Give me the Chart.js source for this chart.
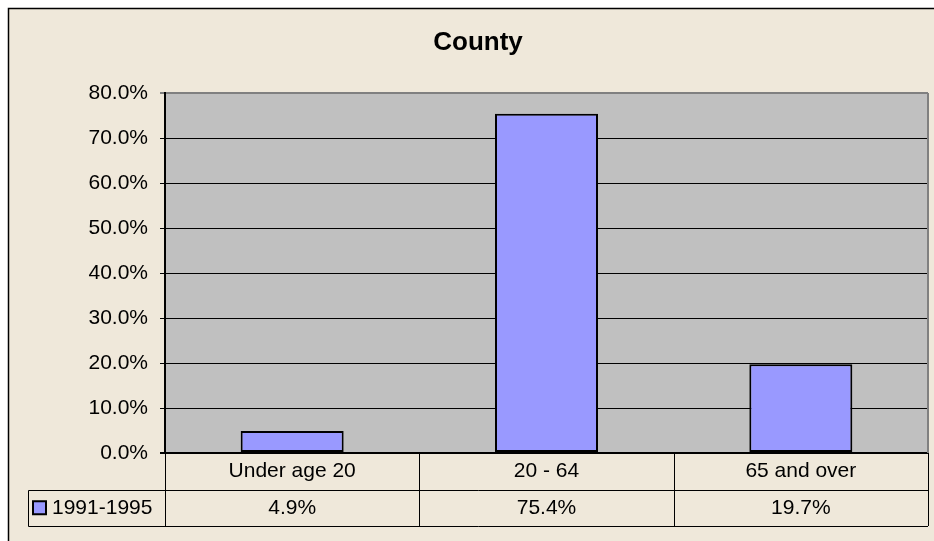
<!DOCTYPE html>
<html>
<head>
<meta charset="utf-8">
<title>County</title>
<script src="https://cdn.jsdelivr.net/npm/chart.js@4/dist/chart.umd.min.js"></script>
<style>
  html, body { margin: 0; padding: 0; background: #fff; }
  canvas { display: block; }
</style>
</head>
<body>
<canvas id="chart" width="934" height="541"></canvas>
<script>
const chartTitle = 'County';
const categories = ['Under age 20', '20 - 64', '65 and over'];
const seriesName = '1991-1995';
const values = [4.9, 75.4, 19.7];
const yMax = 80;
const yStep = 10;

const BG = '#EFE8DA';
const PLOT_BG = '#C0C0C0';
const BAR = '#9999FF';
const FONT = "'Liberation Sans', Arial, sans-serif";
const legendLeft = 28;
// the chart object runs past the right edge of the window, so its title sits right of centre
const titleX = 478;
const titleY = 43;

function pct(v) {
  return `${Number(v).toFixed(1)}%`;
}

// background, outer frame, title and grey plot area
const framePlugin = {
  id: 'frame',
  beforeDraw(chart) {
    const { ctx, chartArea, width, height } = chart;
    ctx.save();
    ctx.fillStyle = '#fff';
    ctx.fillRect(0, 0, width, height);
    ctx.fillStyle = BG;
    ctx.fillRect(9, 9, width, height);
    ctx.strokeStyle = '#000';
    ctx.lineWidth = 1.5;
    ctx.beginPath();
    ctx.moveTo(8.5, height);
    ctx.lineTo(8.5, 8.5);
    ctx.lineTo(width, 8.5);
    ctx.stroke();
    ctx.fillStyle = PLOT_BG;
    ctx.fillRect(chartArea.left, chartArea.top, chartArea.right - chartArea.left, chartArea.bottom - chartArea.top);

    ctx.fillStyle = '#000';
    ctx.font = `bold 26px ${FONT}`;
    ctx.textAlign = 'center';
    ctx.textBaseline = 'middle';
    ctx.fillText(chartTitle, titleX, titleY);
    ctx.restore();
  },
  afterDatasetsDraw(chart) {
    const { ctx, chartArea } = chart;
    ctx.save();
    ctx.strokeStyle = '#808080';
    ctx.lineWidth = 2;
    ctx.beginPath();
    ctx.moveTo(chartArea.right, chartArea.top);
    ctx.lineTo(chartArea.right, chartArea.bottom);
    ctx.stroke();
    ctx.restore();
  },
};

// data table under the x axis
const tablePlugin = {
  id: 'dataTable',
  afterDraw(chart) {
    const { ctx, chartArea } = chart;
    const x = chart.scales.x;
    const top = chartArea.bottom;
    const bottom = x.bottom;
    const rowH = (bottom - top) / 2;
    const mid = top + rowH;
    const half = (chartArea.right - chartArea.left) / categories.length / 2;

    ctx.save();
    ctx.strokeStyle = '#000';
    ctx.lineWidth = 1;
    ctx.beginPath();
    // column lines
    const edges = [chartArea.left];
    categories.forEach((_, i) => edges.push(x.getPixelForValue(i) + half));
    edges.forEach((ex) => {
      const px = Math.round(ex) + 0.5;
      ctx.moveTo(px, top);
      ctx.lineTo(px, bottom);
    });
    // row lines + legend cell
    ctx.moveTo(legendLeft + 0.5, Math.round(mid) + 0.5);
    ctx.lineTo(chartArea.right, Math.round(mid) + 0.5);
    ctx.moveTo(legendLeft + 0.5, Math.round(bottom) + 0.5);
    ctx.lineTo(chartArea.right, Math.round(bottom) + 0.5);
    ctx.moveTo(legendLeft + 0.5, Math.round(mid) + 0.5);
    ctx.lineTo(legendLeft + 0.5, Math.round(bottom) + 0.5);
    ctx.stroke();

    // values row
    ctx.fillStyle = '#000';
    ctx.font = `21px ${FONT}`;
    ctx.textBaseline = 'middle';
    ctx.textAlign = 'center';
    const rowY = mid + rowH / 2;
    values.forEach((v, i) => {
      ctx.fillText(pct(v), x.getPixelForValue(i), rowY);
    });

    // legend key
    ctx.fillStyle = BAR;
    ctx.fillRect(legendLeft + 5, rowY - 6.5, 13, 13);
    ctx.lineWidth = 2;
    ctx.strokeRect(legendLeft + 5, rowY - 6.5, 13, 13);
    ctx.fillStyle = '#000';
    ctx.textAlign = 'left';
    ctx.fillText(seriesName, legendLeft + 24, rowY);
    ctx.restore();
  },
};

new Chart(document.getElementById('chart'), {
  type: 'bar',
  data: {
    labels: categories,
    datasets: [{
      label: seriesName,
      data: values,
      backgroundColor: BAR,
      borderColor: '#000',
      borderWidth: 2,
      borderSkipped: false,
      barPercentage: 0.405,
      categoryPercentage: 1,
    }],
  },
  options: {
    responsive: false,
    animation: false,
    devicePixelRatio: 1,
    layout: { padding: { left: 0, right: 6, top: 93, bottom: 15 } },
    plugins: {
      legend: { display: false },
      tooltip: { enabled: false },
      title: { display: false },
    },
    scales: {
      x: {
        grid: { display: false, drawTicks: false },
        border: { display: false },
        ticks: { color: '#000', font: { family: FONT, size: 21 }, padding: 6, maxRotation: 0 },
        afterFit(scale) { scale.height = 73; },
      },
      y: {
        min: 0,
        max: yMax,
        ticks: {
          stepSize: yStep,
          color: '#000',
          font: { family: FONT, size: 21 },
          padding: 12,
          callback: (v) => pct(v),
        },
        grid: {
          color: (c) => (c.tick && c.tick.value === yMax ? '#808080' : '#000'),
          lineWidth: (c) => (c.tick && (c.tick.value === yMax || c.tick.value === 0) ? 2 : 1),
          tickLength: 5,
        },
        border: { display: true, color: '#000', width: 2 },
        afterFit(scale) { scale.width = 165; },
      },
    },
  },
  plugins: [framePlugin, tablePlugin],
});
</script>
</body>
</html>
